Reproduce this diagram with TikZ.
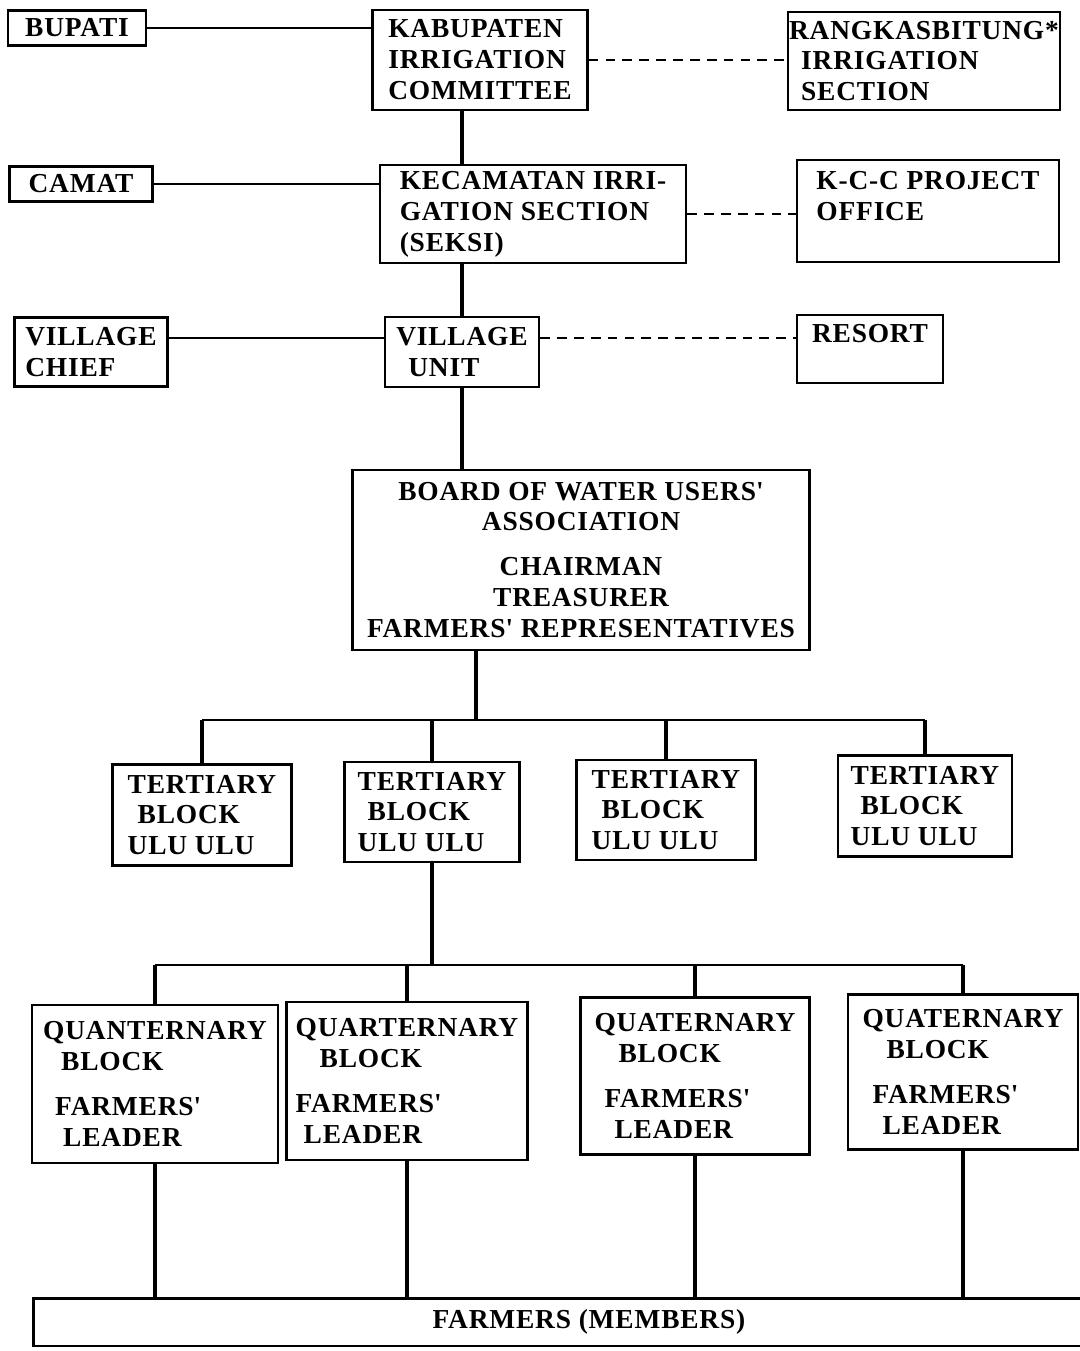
\documentclass[tikz,border=0pt]{standalone}
\usepackage{fontspec}
\setmainfont{Liberation Serif}[LetterSpace=3]
\usetikzlibrary{positioning,calc}

\tikzset{
  box/.style 2 args={draw, line width=1.6pt, minimum width=#1*0.025cm,
    minimum height=#2*0.025cm, align=left, inner xsep=3pt,
    font=\fontsize{19.5}{22}\selectfont\bfseries},
  link/.style={line width=2.2pt},
  side/.style={line width=1.2pt},
  dashline/.style={line width=0.9pt, dash pattern=on 7pt off 5pt},
}

\begin{document}
\begin{tikzpicture}[x=0.025cm, y=-0.025cm]
  \fill[white] (0,0) rectangle (1080,1351);
  \useasboundingbox (0,0) rectangle (1080,1351);

  % upper levels
  \node[box={138}{35}] (bupati) at (77,28) {BUPATI};
  \node[box={215}{100}] (kab) at (480,60) {KABUPATEN\\IRRIGATION\\COMMITTEE};
  \node[box={265}{98}, inner xsep=1pt] (rang) at (924,61)
    {RANGKASBITUNG*\\\hspace*{0.3cm}IRRIGATION\\\hspace*{0.3cm}SECTION};

  \node[box={143}{35}] (camat) at (81,184) {CAMAT};
  \node[box={306}{98}] (kec) at (533,214) {KECAMATAN IRRI-\\GATION SECTION\\(SEKSI)};
  \node[box={262}{102}] (kcc) at (928,211) {K-C-C PROJECT\\OFFICE\\\mbox{}};

  \node[box={153}{69}] (vchief) at (91,352) {VILLAGE\\CHIEF};
  \node[box={154}{70}] (vunit) at (462,352) {VILLAGE\\\hspace*{0.3cm}UNIT};
  \node[box={146}{68}] (resort) at (870,349) {RESORT\\\mbox{}};

  \node[box={457}{180}, align=center] (board) at (581,560)
    {BOARD OF WATER USERS\textquotesingle\\ASSOCIATION\\[0.35cm]CHAIRMAN\\TREASURER\\FARMERS\textquotesingle{} REPRESENTATIVES};

  % tertiary blocks
  \node[box={179}{101}] (t1) at (202,815) {TERTIARY\\\hspace*{0.25cm}BLOCK\\ULU ULU};
  \node[box={175}{100}] (t2) at (432,812) {TERTIARY\\\hspace*{0.25cm}BLOCK\\ULU ULU};
  \node[box={179}{100}] (t3) at (666,810) {TERTIARY\\\hspace*{0.25cm}BLOCK\\ULU ULU};
  \node[box={174}{101}] (t4) at (925,806) {TERTIARY\\\hspace*{0.25cm}BLOCK\\ULU ULU};

  % quaternary blocks
  \node[box={246}{158}] (q1) at (155,1084)
    {QUANTERNARY\\\hspace*{0.45cm}BLOCK\\[0.35cm]\hspace*{0.3cm}FARMERS\textquotesingle\\\hspace*{0.5cm}LEADER};
  \node[box={241}{158}] (q2) at (407,1081)
    {QUARTERNARY\\\hspace*{0.6cm}BLOCK\\[0.35cm]FARMERS\textquotesingle\\\hspace*{0.2cm}LEADER};
  \node[box={229}{157}] (q3) at (695,1076)
    {QUATERNARY\\\hspace*{0.6cm}BLOCK\\[0.35cm]\hspace*{0.25cm}FARMERS\textquotesingle\\\hspace*{0.5cm}LEADER};
  \node[box={230}{155}] (q4) at (963,1072)
    {QUATERNARY\\\hspace*{0.6cm}BLOCK\\[0.35cm]\hspace*{0.25cm}FARMERS\textquotesingle\\\hspace*{0.5cm}LEADER};

  \node[box={1045}{45}, draw=none, align=center] (farmers) at (557,1322)
    {\hspace*{1.6cm}FARMERS (MEMBERS)};
  \draw[line width=1.6pt] (farmers.north east) -- (farmers.north west)
    -- (farmers.south west) -- (farmers.south east);

  % side links
  \draw[side] (bupati.east) -- (bupati.east -| kab.west);
  \draw[dashline] (kab.east) -- (kab.east -| rang.west);
  \draw[side] (camat.east) -- (camat.east -| kec.west);
  \draw[dashline] (kec.east) -- (kec.east -| kcc.west);
  \coordinate (vjoin) at ([yshift=0.35cm]vchief.east);
  \draw[side] (vjoin) -- (vjoin -| vunit.west);
  \draw[dashline] (vjoin -| vunit.east) -- (vjoin -| resort.west);

  % main line
  \draw[link] (vunit.north |- kab.south) -- (vunit.north |- kec.north);
  \draw[link] (vunit.north |- kec.south) -- (vunit.north);
  \draw[link] (vunit.south) -- (vunit.south |- board.north);

  \coordinate (bus1) at (476,720);
  \draw[link] (bus1 |- board.south) -- (bus1);
  \draw[side] (t1.north |- bus1) -- (t4.north |- bus1);
  \draw[link] (t1.north |- bus1) -- (t1.north);
  \draw[link] (t2.north |- bus1) -- (t2.north);
  \draw[link] (t3.north |- bus1) -- (t3.north);
  \draw[link] (t4.north |- bus1) -- (t4.north);

  \coordinate (bus2) at (434,965);
  \draw[link] (t2.south) -- (t2.south |- bus2);
  \draw[side] (q1.north |- bus2) -- (q4.north |- bus2);
  \draw[link] (q1.north |- bus2) -- (q1.north);
  \draw[link] (q2.north |- bus2) -- (q2.north);
  \draw[link] (q3.north |- bus2) -- (q3.north);
  \draw[link] (q4.north |- bus2) -- (q4.north);

  \draw[link] (q1.south) -- (q1.south |- farmers.north);
  \draw[link] (q2.south) -- (q2.south |- farmers.north);
  \draw[link] (q3.south) -- (q3.south |- farmers.north);
  \draw[link] (q4.south) -- (q4.south |- farmers.north);

\end{tikzpicture}
\end{document}
